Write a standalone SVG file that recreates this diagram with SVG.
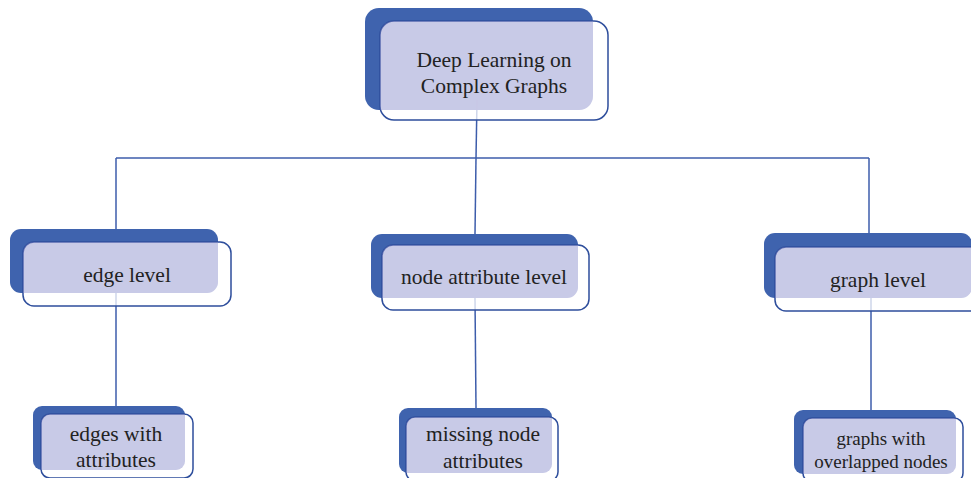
<svg xmlns="http://www.w3.org/2000/svg" width="971" height="478" viewBox="0 0 971 478">
  <style>
    .back { fill: #3F63AE; }
    .wire { fill: none; stroke: #3D5DAB; stroke-width: 1.5; }
    .veil { fill: #FFFFFF; fill-opacity: 0.75; stroke: #2E4E9C; stroke-width: 1.5; }
    .tint { fill: #B9A9DE; fill-opacity: 0.3; }
    .label { font-family: "Liberation Serif", "Times New Roman", serif; font-size: 21.5px; fill: #222222; text-anchor: middle; }
    .small { font-size: 19px; }
  </style>
  <defs>
    <clipPath id="c-root"><rect x="380" y="21" width="228" height="99" rx="14"/></clipPath>
    <clipPath id="c-edge"><rect x="23" y="242" width="208" height="64" rx="11"/></clipPath>
    <clipPath id="c-node"><rect x="382" y="245" width="207" height="65" rx="11"/></clipPath>
    <clipPath id="c-graph"><rect x="775" y="247" width="208" height="64" rx="11"/></clipPath>
    <clipPath id="c-edges-attr"><rect x="41" y="414" width="152" height="64" rx="9"/></clipPath>
    <clipPath id="c-missing"><rect x="406" y="417" width="152" height="64" rx="9"/></clipPath>
    <clipPath id="c-overlap"><rect x="803" y="418" width="160" height="64" rx="9"/></clipPath>
  </defs>

  <!-- solid back plates -->
  <g id="plates">
    <rect class="back" x="365" y="8" width="228" height="102" rx="14"/>
    <rect class="back" x="10" y="229" width="208" height="64" rx="11"/>
    <rect class="back" x="371" y="234" width="207" height="64" rx="11"/>
    <rect class="back" x="764" y="233" width="208" height="65" rx="11"/>
    <rect class="back" x="33" y="406" width="152" height="64" rx="9"/>
    <rect class="back" x="399" y="408" width="153" height="65" rx="9"/>
    <rect class="back" x="794" y="410" width="162" height="64" rx="9"/>
  </g>

  <!-- connectors -->
  <g id="connectors">
    <path class="wire" d="M477,100 L476,158"/>
    <path class="wire" d="M116,158 H869"/>
    <path class="wire" d="M116,158 V229"/>
    <path class="wire" d="M476,158 L475,234"/>
    <path class="wire" d="M869,158 V233"/>
    <path class="wire" d="M116,293 V406"/>
    <path class="wire" d="M475,298 L476,408"/>
    <path class="wire" d="M871,298 V410"/>
  </g>

  <g id="root">
    <rect class="veil" x="380" y="21" width="228" height="99" rx="14"/>
    <rect class="tint" clip-path="url(#c-root)" x="365" y="8" width="228" height="102" rx="14"/>
    <text class="label" x="494" y="67">Deep Learning on</text>
    <text class="label" x="494" y="93">Complex Graphs</text>
  </g>

  <g id="edge-level">
    <rect class="veil" x="23" y="242" width="208" height="64" rx="11"/>
    <rect class="tint" clip-path="url(#c-edge)" x="10" y="229" width="208" height="64" rx="11"/>
    <text class="label" x="127" y="282">edge level</text>
  </g>

  <g id="node-attribute-level">
    <rect class="veil" x="382" y="245" width="207" height="65" rx="11"/>
    <rect class="tint" clip-path="url(#c-node)" x="371" y="234" width="207" height="64" rx="11"/>
    <text class="label" x="484" y="284">node attribute level</text>
  </g>

  <g id="graph-level">
    <rect class="veil" x="775" y="247" width="208" height="64" rx="11"/>
    <rect class="tint" clip-path="url(#c-graph)" x="764" y="233" width="208" height="65" rx="11"/>
    <text class="label" x="878" y="287">graph level</text>
  </g>

  <g id="edges-with-attributes">
    <rect class="veil" x="41" y="414" width="152" height="64" rx="9"/>
    <rect class="tint" clip-path="url(#c-edges-attr)" x="33" y="406" width="152" height="64" rx="9"/>
    <text class="label" x="116" y="441">edges with</text>
    <text class="label" x="116" y="467">attributes</text>
  </g>

  <g id="missing-node-attributes">
    <rect class="veil" x="406" y="417" width="152" height="64" rx="9"/>
    <rect class="tint" clip-path="url(#c-missing)" x="399" y="408" width="153" height="65" rx="9"/>
    <text class="label" x="483" y="441">missing node</text>
    <text class="label" x="483" y="468">attributes</text>
  </g>

  <g id="overlapped-nodes">
    <rect class="veil" x="803" y="418" width="160" height="64" rx="9"/>
    <rect class="tint" clip-path="url(#c-overlap)" x="794" y="410" width="162" height="64" rx="9"/>
    <text class="label small" x="881" y="445">graphs with</text>
    <text class="label small" x="881" y="468">overlapped nodes</text>
  </g>
</svg>
